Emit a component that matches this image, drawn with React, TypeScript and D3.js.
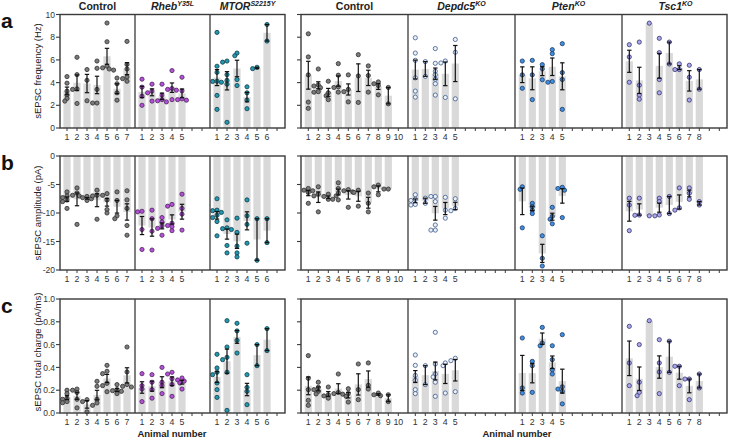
import React, { useRef, useEffect } from "react";
import * as d3 from "d3";

// sEPSC frequency (Hz), one array per animal
const freqCtlL = [
  [4.53, 3.95, 3.25, 2.9, 2.6, 2.37],
  [6.23, 4.7, 3.45, 3.4, 2.16],
  [5.15, 4.2, 2.4],
  [5.9, 5.26, 3.4, 2.2, 2.2],
  [9.25, 7.6, 5.45, 5.3, 5.1, 5.2],
  [4.4, 3.9, 3.1, 2.45],
  [7.63, 5.6, 5.2, 4.5, 4.35, 4.12],
];
const freqRheb = [
  [4.3, 3.6, 2.8, 2.0],
  [3.86, 3.25, 3.1, 2.37],
  [3.86, 2.9, 2.5, 2.4, 2.3],
  [5.06, 3.48, 3.4, 3.33, 2.5],
  [4.47, 3.27, 2.57, 2.5, 2.45],
];
const freqMtor = [
  [8.42, 5.44, 4.9, 4.12, 4.1, 4.03, 2.87, 1.64],
  [5.9, 5.8, 4.7, 4.2, 3.86, 0.5],
  [6.6, 6.37, 4.27, 3.74],
  [3.63, 3.1, 2.46, 1.7],
  [5.35, 5.23],
  [9.12, 7.66],
];
const freqCtlR = [
  [8.3, 6.26, 4.68, 2.28, 1.73],
  [5.2, 3.8, 3.7, 3.55, 3.2, 3.15],
  [4.12, 3.1, 2.84, 2.5],
  [5.67, 4.65, 3.63, 3.57, 3.16],
  [4.68, 3.4, 3.2, 2.3],
  [6.46, 4.59, 2.25],
  [5.47, 4.62, 3.16],
  [4.06, 3.9, 3.74, 2.92],
  [3.57, 2.13],
];
const freqDepdc5 = [
  [7.95, 6.6, 5.96, 4.42, 3.25, 2.72],
  [5.85, 4.55],
  [7.0, 5.7, 5.0, 4.7, 4.3, 3.9, 2.9],
  [5.9, 5.73, 2.69],
  [7.8, 6.67, 2.57],
];
const freqPten = [
  [5.9, 4.68, 3.5],
  [5.96, 4.68, 2.5],
  [5.58, 5.2, 4.25],
  [6.9, 6.55, 4.1, 4.03],
  [7.43, 4.88, 4.27, 1.64],
];
const freqTsc1 = [
  [7.34, 6.26, 4.03],
  [7.57, 3.77, 2.9, 2.54],
  [9.24],
  [7.9, 6.64, 4.27, 3.1],
  [7.57, 5.64],
  [5.65, 5.15, 5.15],
  [5.53, 4.47, 2.46],
  [5.15, 3.42],
];

// sEPSC amplitude (pA)
const ampCtlL = [
  [-6.3, -7.0, -7.3, -7.7, -8.0, -9.2],
  [-5.6, -6.5, -6.9, -7.0, -12.0],
  [-7.1, -7.3, -7.5, -7.8],
  [-6.0, -6.9, -7.0, -11.1],
  [-6.6, -6.9, -7.7, -9.4, -10.0],
  [-6.3, -7.8, -10.5, -11.0],
  [-6.1, -7.7, -9.2, -12.2, -13.9],
];
const ampRheb = [
  [-9.7, -9.8, -12.9, -16.4],
  [-9.5, -11.0, -13.2, -16.5],
  [-10.8, -11.6, -12.3, -12.7, -13.9],
  [-8.5, -8.8, -11.8, -12.2, -12.4, -13.1],
  [-6.7, -9.2, -10.2, -13.0],
];
const ampMtor = [
  [-7.5, -9.5, -9.6, -9.9, -10.4, -10.8, -11.5, -14.0],
  [-11.2, -12.6, -12.75, -12.9, -15.7, -17.0],
  [-10.9, -13.4, -15.8, -17.0, -17.7],
  [-7.7, -10.5, -12.0, -15.3],
  [-11.0, -18.3],
  [-11.0, -15.2],
];
const ampCtlR = [
  [-5.7, -6.0, -6.1, -6.4, -8.3],
  [-5.4, -6.7, -7.0, -9.8],
  [-6.7, -7.1, -7.6, -7.6],
  [-4.7, -5.7, -6.5, -7.0, -7.7],
  [-5.9, -6.1, -6.3, -9.0],
  [-6.0, -6.4, -8.8],
  [-6.5, -8.3, -9.8],
  [-5.1, -5.4, -6.8],
  [-5.8, -5.8],
];
const ampDepdc5 = [
  [-6.8, -7.6, -7.8, -8.5, -8.6],
  [-7.4, -8.3],
  [-7.1, -7.1, -8.0, -12.1, -13.0, -13.0],
  [-7.25, -9.5, -10.9],
  [-7.5, -9.2, -9.6],
];
const ampPten = [
  [-5.4, -5.85, -12.6],
  [-8.3, -8.9, -9.5, -10.1],
  [-14.0, -17.95, -19.3],
  [-9.0, -10.6, -11.1, -11.9],
  [-5.5, -5.7, -6.0, -10.8],
];
const ampTsc1 = [
  [-7.4, -8.6, -13.1],
  [-7.4, -10.35, -10.4],
  [-10.5],
  [-7.4, -8.0, -10.35, -10.5],
  [-7.1, -10.1],
  [-5.6, -9.1, -9.5],
  [-5.6, -6.55, -7.6],
  [-8.0, -8.6],
];

// sEPSC total charge (pA/ms)
const chgCtlL = [
  [0.2, 0.17, 0.13, 0.12, 0.1, 0.09],
  [0.21, 0.2, 0.18, 0.12, 0.045],
  [0.117, 0.1, 0.01],
  [0.278, 0.234, 0.12, 0.088, 0.067],
  [0.418, 0.366, 0.345, 0.26, 0.24, 0.187],
  [0.249, 0.205, 0.196, 0.19, 0.17],
  [0.579, 0.36, 0.25, 0.234, 0.228],
];
const chgRheb = [
  [0.345, 0.24, 0.21, 0.1],
  [0.336, 0.27, 0.205, 0.13],
  [0.4, 0.27, 0.24, 0.17],
  [0.357, 0.342, 0.3, 0.25, 0.146],
  [0.307, 0.29, 0.28, 0.263, 0.21],
];
const chgMtor = [
  [0.515, 0.395, 0.357, 0.336, 0.263, 0.205, 0.137],
  [0.81, 0.579, 0.488, 0.468, 0.357, 0.023],
  [0.787, 0.72, 0.637, 0.526],
  [0.336, 0.225, 0.19, 0.073],
  [0.6, 0.415],
  [0.74, 0.547],
];
const chgCtlR = [
  [0.503, 0.304, 0.205, 0.111, 0.067],
  [0.27, 0.225, 0.205, 0.19, 0.167],
  [0.228, 0.16, 0.15, 0.13],
  [0.342, 0.18, 0.17, 0.165],
  [0.213, 0.17, 0.146, 0.096],
  [0.43, 0.205, 0.117],
  [0.439, 0.243, 0.21],
  [0.175, 0.16, 0.152],
  [0.16, 0.1],
];
const chgDepdc5 = [
  [0.509, 0.418, 0.33, 0.287, 0.205, 0.17],
  [0.415, 0.249],
  [0.708, 0.43, 0.342, 0.316, 0.27, 0.146],
  [0.439, 0.415, 0.175],
  [0.48, 0.459, 0.187],
];
const chgPten = [
  [0.658, 0.22, 0.175],
  [0.453, 0.415, 0.181],
  [0.751, 0.614, 0.59],
  [0.59, 0.468, 0.38, 0.342],
  [0.687, 0.23, 0.21, 0.19, 0.08],
];
const chgTsc1 = [
  [0.76, 0.439, 0.24],
  [0.6, 0.27, 0.181, 0.152],
  [0.81],
  [0.643, 0.439, 0.36, 0.17],
  [0.63, 0.357],
  [0.41, 0.41, 0.24],
  [0.298, 0.298, 0.117],
  [0.342, 0.22],
];

// group headers and animal counts on the x axis
const leftGroups = [
  { name: "Control", sup: "", italic: false, style: "control", animals: 7 },
  { name: "Rheb", sup: "Y35L", italic: true, style: "rheb", animals: 5 },
  { name: "MTOR", sup: "S2215Y", italic: true, style: "mtor", animals: 6 },
];
const rightGroups = [
  { name: "Control", sup: "", italic: false, style: "control", animals: 10 },
  { name: "Depdc5", sup: "KO", italic: true, style: "depdc5", animals: 5 },
  { name: "Pten", sup: "KO", italic: true, style: "pten", animals: 5 },
  { name: "Tsc1", sup: "KO", italic: true, style: "tsc1", animals: 8 },
];

const styles = {
  control: { fill: "#7b7b7b", stroke: "#2e2e2e" },
  rheb: { fill: "#b64fdc", stroke: "#4a2458" },
  mtor: { fill: "#1f9ab0", stroke: "#123a46" },
  depdc5: { fill: "#edf1fa", stroke: "#3c5a8c" },
  pten: { fill: "#3f8fe2", stroke: "#1b3866" },
  tsc1: { fill: "#aba8ee", stroke: "#34346a" },
};

const panels = [
  {
    letter: "a", label: "sEPSC frequency (Hz)", domain: [0, 10], ticks: [0, 2, 4, 6, 8, 10],
    fmt: (d) => String(d), top: 14.5, bottom: 128, labelY: 71,
    left: [freqCtlL, freqRheb, freqMtor], right: [freqCtlR, freqDepdc5, freqPten, freqTsc1],
  },
  {
    letter: "b", label: "sEPSC amplitude (pA)", domain: [-20, 0], ticks: [0, -5, -10, -15, -20],
    fmt: (d) => String(d), top: 156, bottom: 270, labelY: 213,
    left: [ampCtlL, ampRheb, ampMtor], right: [ampCtlR, ampDepdc5, ampPten, ampTsc1],
  },
  {
    letter: "c", label: "sEPSC total charge (pA/ms)", domain: [0, 1], ticks: [0, 0.2, 0.4, 0.6, 0.8, 1],
    fmt: d3.format(".1f"), top: 299, bottom: 413, labelY: 352,
    left: [chgCtlL, chgRheb, chgMtor], right: [chgCtlR, chgDepdc5, chgPten, chgTsc1],
  },
];

const FONT = "Arial, 'Liberation Sans', sans-serif";
const TXT = "#333";
const FRAME = "#3a3a3a";

// two blocks, each a linear scale in "slot" units
const blocks = [
  { groups: leftGroups, slots: 7, groupW: 7.5, shift: 0.3, x0: 60, x1: 285, units: 22.5, key: "left" },
  { groups: rightGroups, slots: 10, groupW: 10.7, shift: 0.27, x0: 301, x1: 727, units: 42.6, key: "right" },
];

const R = 2.1;

// greedy beeswarm so overlapping points sit side by side
function swarm(ys) {
  const order = ys.map((y, i) => i).sort((a, b) => ys[a] - ys[b]);
  const placed = [];
  const offs = new Array(ys.length).fill(0);
  const cands = [0, -2.2, 2.2, -4.4, 4.4, -6.6, 6.6];
  order.forEach((i) => {
    const y = ys[i];
    const dx = cands.find((c) =>
      placed.every((p) => Math.hypot(p.x - c, p.y - y) >= R * 1.6)
    );
    offs[i] = dx === undefined ? 0 : dx;
    placed.push({ x: offs[i], y });
  });
  return offs;
}

const App = () => {
  const svgRef = useRef(null);

  useEffect(() => {
    const svg = d3.select(svgRef.current);
    svg.selectAll("*").remove();
    svg.attr("width", 731).attr("height", 439).style("font-family", FONT);

    // group titles
    blocks.forEach((b) => {
      const x = d3.scaleLinear().domain([0, b.units]).range([b.x0, b.x1]);
      b.groups.forEach((g, gi) => {
        const cx = x(gi * b.groupW + b.groupW / 2);
        const t = svg.append("text")
          .attr("x", cx).attr("y", 10)
          .attr("text-anchor", "middle")
          .style("font-size", "10.5px").style("font-weight", "bold")
          .style("font-style", g.italic ? "italic" : "normal")
          .attr("fill", "#222");
        t.append("tspan").text(g.name);
        if (g.sup) {
          t.append("tspan").attr("dy", -4).style("font-size", "7px").text(g.sup);
        }
      });
    });

    panels.forEach((p) => {
      const y = d3.scaleLinear().domain(p.domain).range([p.bottom, p.top]);

      // panel letter
      svg.append("text").attr("x", 1).attr("y", p.top + 13.5)
        .style("font-size", "21px").style("font-weight", "bold").attr("fill", "#111")
        .text(p.letter);

      // y label
      svg.append("text")
        .attr("transform", `translate(41,${p.labelY}) rotate(-90)`)
        .attr("text-anchor", "middle")
        .style("font-size", "9.5px").attr("fill", "#222")
        .text(p.label);

      blocks.forEach((b, bi) => {
        const x = d3.scaleLinear().domain([0, b.units]).range([b.x0, b.x1]);
        const unit = x(1) - x(0);
        const g = svg.append("g");
        const datasets = p[b.key];

        // y axis ticks
        p.ticks.forEach((t) => {
          g.append("line").attr("x1", b.x0 - 4).attr("x2", b.x0)
            .attr("y1", y(t)).attr("y2", y(t))
            .attr("stroke", FRAME).attr("stroke-width", 1.1);
          if (bi === 0) {
            g.append("text").attr("x", b.x0 - 5).attr("y", y(t) + 3.1)
              .attr("text-anchor", "end").style("font-size", "8.5px").attr("fill", TXT)
              .text(p.fmt(t));
          }
        });

        b.groups.forEach((grp, gi) => {
          const slotX = (i) => x(gi * b.groupW + i + 1 - b.shift);
          // x ticks and animal numbers
          d3.range(b.slots).forEach((i) => {
            g.append("line").attr("x1", slotX(i)).attr("x2", slotX(i))
              .attr("y1", p.bottom).attr("y2", p.bottom + 3)
              .attr("stroke", FRAME).attr("stroke-width", 1);
            if (i < grp.animals) {
              g.append("text").attr("x", slotX(i)).attr("y", p.bottom + 11.5)
                .attr("text-anchor", "middle").style("font-size", "8.8px").attr("fill", TXT)
                .text(i + 1);
            }
          });

          const st = styles[grp.style];
          const animals = datasets[gi];
          const stats = animals.map((vals) => ({
            vals,
            mean: d3.mean(vals),
            sem: vals.length > 1 ? d3.deviation(vals) / Math.sqrt(vals.length) : 0,
          }));

          // bars
          g.selectAll(null).data(stats).enter().append("rect")
            .attr("x", (d, i) => slotX(i) - unit * 0.36)
            .attr("width", unit * 0.72)
            .attr("y", (d) => Math.min(y(0), y(d.mean)))
            .attr("height", (d) => Math.abs(y(d.mean) - y(0)))
            .attr("fill", "#d9d9d9");

          // points
          stats.forEach((d, i) => {
            const ys = d.vals.map((v) => y(v));
            const offs = swarm(ys);
            g.selectAll(null).data(d.vals).enter().append("circle")
              .attr("cx", (v, k) => slotX(i) + offs[k])
              .attr("cy", (v) => y(v))
              .attr("r", R)
              .attr("fill", st.fill)
              .attr("stroke", st.stroke)
              .attr("stroke-width", 0.8);
          });

          // error bars (mean +/- SEM)
          stats.forEach((d, i) => {
            if (d.sem <= 0) return;
            const cx = slotX(i);
            const e = g.append("g").attr("stroke", "#111").attr("stroke-width", 1.2);
            e.append("line").attr("x1", cx).attr("x2", cx)
              .attr("y1", y(d.mean - d.sem)).attr("y2", y(d.mean + d.sem));
            [d.mean - d.sem, d.mean + d.sem].forEach((v) => {
              e.append("line").attr("x1", cx - 2.2).attr("x2", cx + 2.2)
                .attr("y1", y(v)).attr("y2", y(v));
            });
          });

          // divider between groups
          if (gi > 0) {
            g.append("line").attr("x1", x(gi * b.groupW)).attr("x2", x(gi * b.groupW))
              .attr("y1", p.top).attr("y2", p.bottom)
              .attr("stroke", FRAME).attr("stroke-width", 1.3);
          }
        });

        // frame
        g.append("rect").attr("x", b.x0).attr("y", p.top)
          .attr("width", b.x1 - b.x0).attr("height", p.bottom - p.top)
          .attr("fill", "none").attr("stroke", FRAME).attr("stroke-width", 1.4);

        if (p.letter === "c") {
          svg.append("text").attr("x", bi === 0 ? 172 : 517).attr("y", 437)
            .attr("text-anchor", "middle").style("font-size", "9.5px").style("font-weight", "bold")
            .attr("fill", "#222").text("Animal number");
        }
      });
    });
  }, []);

  return (
    <div style={{ position: "absolute", left: 0, top: 0 }}>
      <svg ref={svgRef}></svg>
    </div>
  );
};

export default App;
